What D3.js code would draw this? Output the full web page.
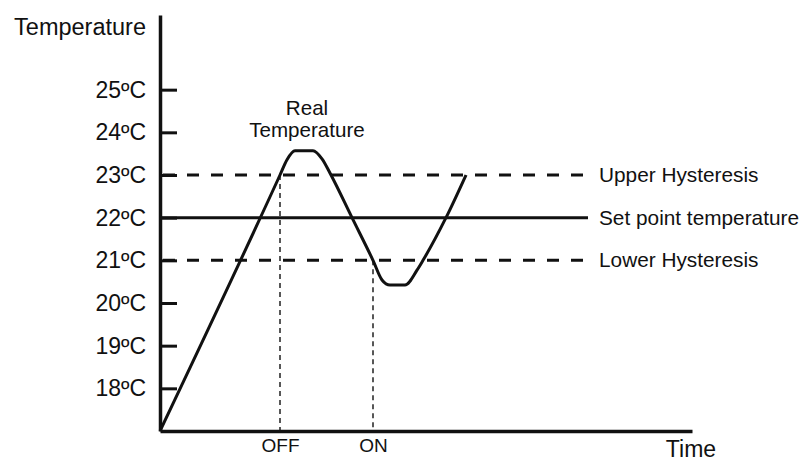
<!DOCTYPE html>
<html>
<head>
<meta charset="utf-8">
<script src="https://cdn.jsdelivr.net/npm/d3@7"></script>
<style>
    body { margin: 0; background: #fff; }
    text { font-family: "Liberation Sans", Arial, sans-serif; fill: #111; }
</style>
</head>
<body>
<div id="chart"></div>
<script>

// time (arbitrary units) and measured temperature of the room
let times = [0, 120, 127, 135, 153, 162, 171, 192, 213, 222, 230, 245, 257, 263, 286, 306];
let temps = [17, 23, 23.36, 23.57, 23.57, 23.38, 23, 22, 21, 20.54, 20.42, 20.42, 20.77, 21, 22, 23];

// reference levels
let levelValues = [23, 22, 21];
let levelLabels = ['Upper Hysteresis', 'Set point temperature', 'Lower Hysteresis'];
let levelDashed = [true, false, true];

// y ticks
let tickValues = [18, 19, 20, 21, 22, 23, 24, 25];

// switching events on the time axis
let eventTimes = [120, 213];
let eventTemps = [23, 21];
let eventLabels = ['OFF', 'ON'];

let width = 802, height = 462;

let svg = d3.select('#chart').append('svg')
    .attr('width', width)
    .attr('height', height);

let x = d3.scaleLinear()
    .domain([0, 532])
    .range([160, 692]);

let y = d3.scaleLinear()
    .domain([17, 26.75])
    .range([431, 15]);

// vertical dashed markers for OFF / ON
svg.selectAll('.event-line')
    .data(eventTimes)
    .enter().append('line')
    .attr('class', 'event-line')
    .attr('x1', d => x(d))
    .attr('x2', d => x(d))
    .attr('y1', (d, i) => y(eventTemps[i]))
    .attr('y2', y(17))
    .attr('stroke', '#111')
    .attr('stroke-width', 1.4)
    .attr('stroke-dasharray', '5,4');

// hysteresis and set point lines
svg.selectAll('.level')
    .data(levelValues)
    .enter().append('line')
    .attr('class', 'level')
    .attr('x1', (d, i) => levelDashed[i] ? x(3) : x(0))
    .attr('x2', (d, i) => levelDashed[i] ? x(423) : x(428))
    .attr('y1', d => y(d))
    .attr('y2', d => y(d))
    .attr('stroke', '#111')
    .attr('stroke-width', 3)
    .attr('stroke-dasharray', (d, i) => levelDashed[i] ? '12,12' : null);

svg.selectAll('.level-label')
    .data(levelValues)
    .enter().append('text')
    .attr('class', 'level-label')
    .attr('x', 599)
    .attr('y', d => y(d) + 7)
    .attr('font-size', '20.8px')
    .text((d, i) => levelLabels[i]);

// real temperature curve
let line = d3.line()
    .x(d => x(d[0]))
    .y(d => y(d[1]))
    .curve(d3.curveMonotoneX);

svg.append('path')
    .datum(times.map((t, i) => [t, temps[i]]))
    .attr('fill', 'none')
    .attr('stroke', '#111')
    .attr('stroke-width', 3)
    .attr('d', line);

svg.append('text')
    .attr('text-anchor', 'middle')
    .attr('font-size', '20.6px')
    .selectAll('tspan')
    .data(['Real', 'Temperature'])
    .enter().append('tspan')
    .attr('x', 307)
    .attr('y', (d, i) => 115 + i * 22)
    .text(d => d);

// axes
let yAxis = d3.axisLeft(y)
    .tickValues(tickValues)
    .tickSize(-17)
    .tickSizeOuter(0)
    .tickPadding(14)
    .tickFormat(d => d + 'ºC');

let gy = svg.append('g')
    .attr('transform', `translate(${x(0)}, 0)`)
    .call(yAxis);

gy.select('.domain').attr('stroke', '#111').attr('stroke-width', 3.5);
gy.selectAll('.tick line').attr('stroke', '#111').attr('stroke-width', 3);
gy.selectAll('.tick text')
    .attr('font-size', '23px')
    .attr('font-family', '"Liberation Sans", Arial, sans-serif')
    .attr('fill', '#111');

let xAxis = d3.axisBottom(x)
    .tickValues(eventTimes)
    .tickSize(0)
    .tickPadding(7.5)
    .tickFormat((d, i) => eventLabels[i]);

let gx = svg.append('g')
    .attr('transform', `translate(0, ${y(17)})`)
    .call(xAxis);

gx.select('.domain').attr('stroke', '#111').attr('stroke-width', 3.5);
gx.selectAll('.tick text')
    .attr('font-size', '19px')
    .attr('font-family', '"Liberation Sans", Arial, sans-serif')
    .attr('fill', '#111');

// axis titles
svg.append('text')
    .attr('x', 146)
    .attr('y', 35)
    .attr('text-anchor', 'end')
    .attr('font-size', '23.5px')
    .text('Temperature');

svg.append('text')
    .attr('x', 691)
    .attr('y', 457)
    .attr('text-anchor', 'middle')
    .attr('font-size', '23px')
    .text('Time');

</script>
</body>
</html>
